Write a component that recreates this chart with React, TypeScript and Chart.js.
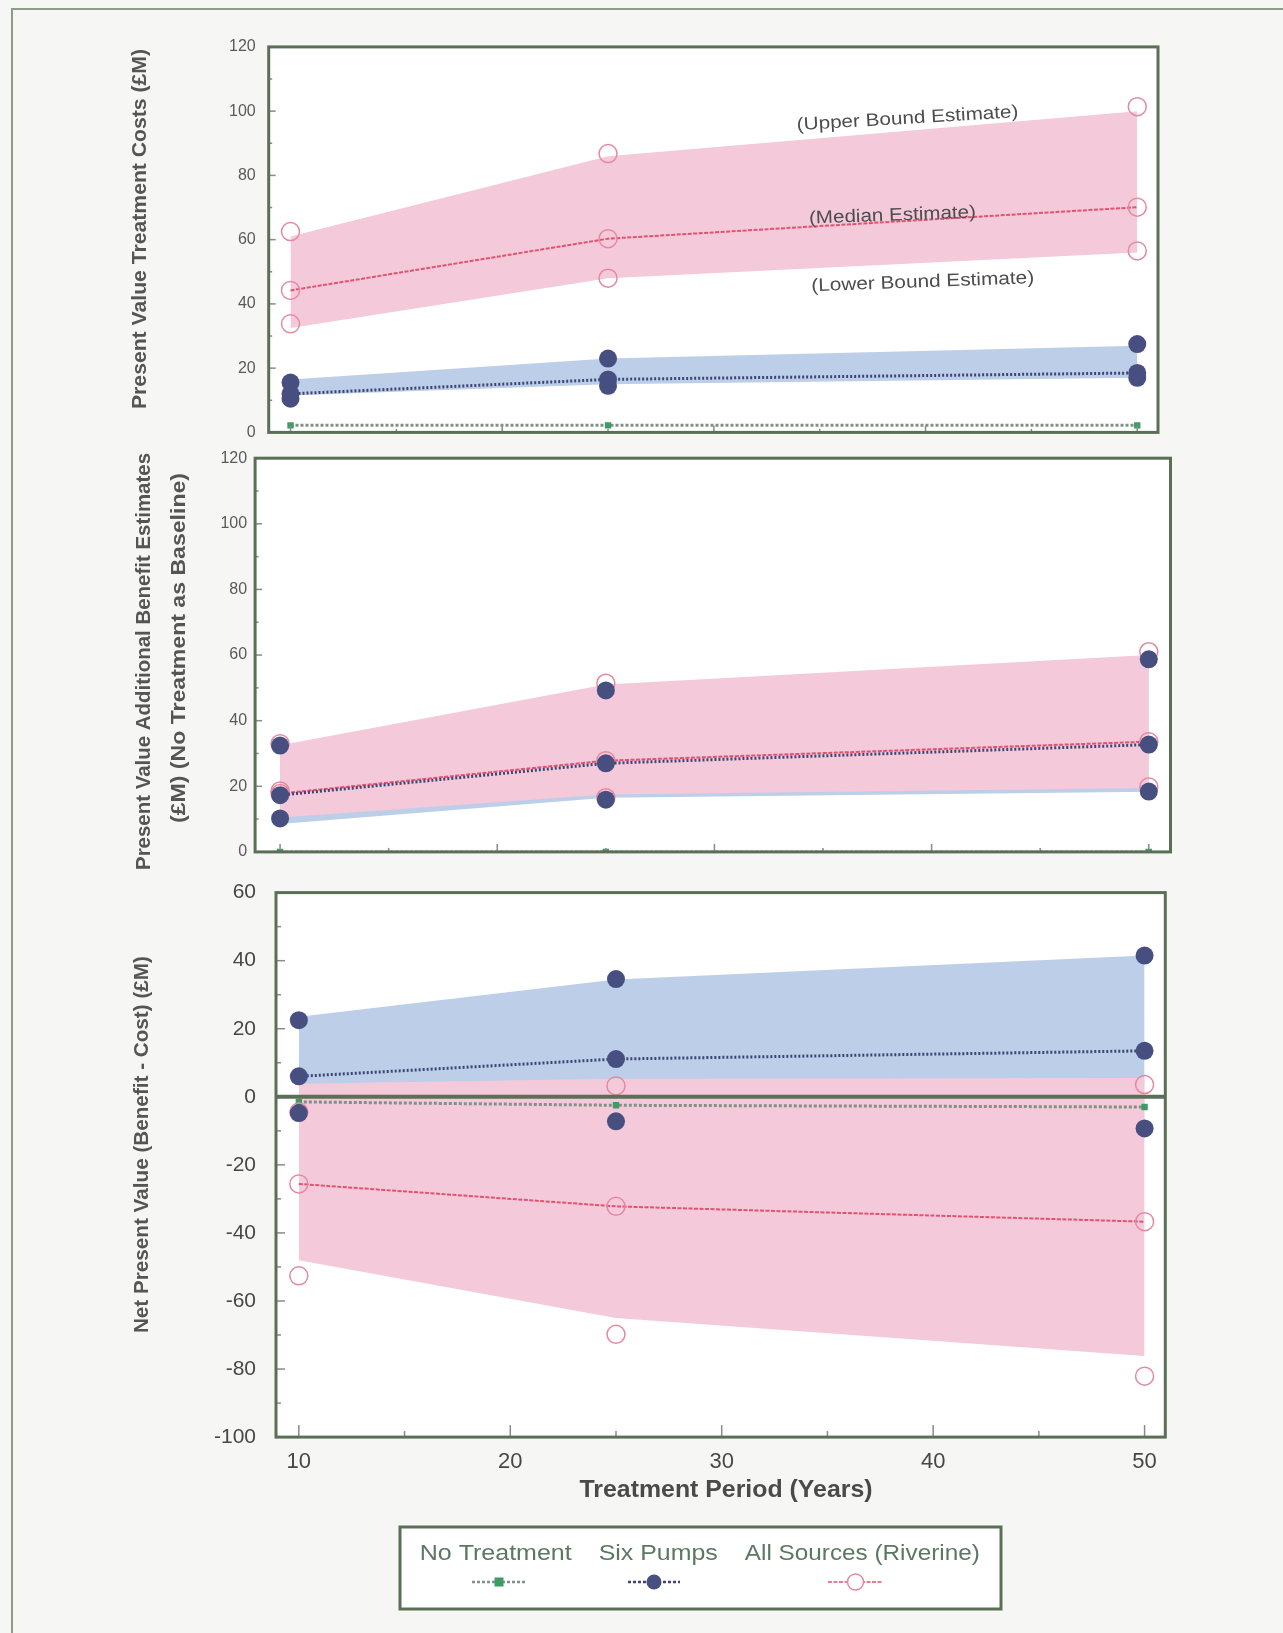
import React, { useEffect, useRef } from 'react';
import { Chart, registerables } from 'chart.js';

Chart.register(...registerables);

// ---------------- data ----------------
const years = [10, 25, 50];
const yearTicks = [10, 20, 30, 40, 50];
const costTicks = [0, 20, 40, 60, 80, 100, 120];
const benefitTicks = [0, 20, 40, 60, 80, 100, 120];
const npvTicks = [-100, -80, -60, -40, -20, 0, 20, 40, 60];

const seriesNames = ['No Treatment', 'Six Pumps', 'All Sources (Riverine)'];
const estimateLabels = ['(Upper Bound Estimate)', '(Median Estimate)', '(Lower Bound Estimate)'];
const xAxisTitle = 'Treatment Period (Years)';
const costAxisTitle = 'Present Value Treatment Costs (£M)';
const benefitAxisTitle = ['Present Value Additional Benefit Estimates', '(£M) (No Treatment as Baseline)'];
const npvAxisTitle = 'Net Present Value (Benefit - Cost) (£M)';

// Panel 1: treatment costs
const costNoTreatment = [2.2, 2.2, 2.2];
const costPumpsUpper = [15.5, 23, 27.5];
const costPumpsMedian = [12, 16.5, 18.5];
const costPumpsLower = [10.5, 14.5, 17];
const costPumpsBandUpper = [16.5, 23, 27];
const costPumpsBandLower = [11.5, 15, 17];
const costRiverUpper = [62.5, 86.8, 101.4];
const costRiverMedian = [44.2, 60.3, 70.1];
const costRiverLower = [33.8, 48, 56.5];
const costRiverBandUpper = [61, 86, 100];
const costRiverBandLower = [32.5, 48, 56];

// Panel 2: additional benefits
const benefitNoTreatment = [0, 0, 0];
const benefitPumpsUpper = [32.4, 49.2, 58.7];
const benefitPumpsMedian = [17.3, 27, 32.7];
const benefitPumpsLower = [10.2, 15.9, 18.4];
const benefitPumpsBandUpper = [32, 49, 58.5];
const benefitPumpsBandLower = [8.5, 16.5, 18.3];
const benefitRiverUpper = [33, 51.4, 61];
const benefitRiverMedian = [17.8, 27.8, 33.6];
const benefitRiverLower = [18.6, 16.5, 19.8];
const benefitRiverBandUpper = [32.5, 51, 60];
const benefitRiverBandLower = [10.5, 17.5, 19.5];

// Panel 3: net present value
const npvNoTreatment = [-1.5, -2.5, -3];
const npvPumpsUpper = [22.5, 34.6, 41.5];
const npvPumpsMedian = [6, 11.1, 13.5];
const npvPumpsLower = [-4.8, -7.2, -9.3];
const npvPumpsBandUpper = [23.5, 34.5, 41.5];
const npvPumpsBandLower = [-4.8, -7.2, -9.3];
const npvRiverUpper = [-4.5, 3.2, 3.6];
const npvRiverMedian = [-25.6, -32.2, -36.7];
const npvRiverLower = [-52.6, -69.8, -82.1];
const npvRiverBandUpper = [3.8, 5.3, 5.5];
const npvRiverBandLower = [-48, -65, -76.2];

// ---------------- styles ----------------
const FONT = '"Liberation Sans", Arial, Helvetica, sans-serif';
const NAVY = '#474f80';
const NAVY_LINE = '#3d4575';
const GREEN = '#3d9b64';
const GREEN_LINE = '#7f9285';
const PINK_LINE = '#e4526f';
const PINK_MARK = '#e5899f';
const BLUE_FILL = 'rgb(189,206,233)';
const PINK_FILL = 'rgb(244,201,218)';
const FRAME = '#5b6f56';
const TICK_MARK = '#8a8a8a';
const TEXT = '#4d4d4d';
const LEGEND_TEXT = '#5c7863';
const PAGE_BG = '#f6f6f4';

type Series = {
  noT: number[];
  pU: number[]; pM: number[]; pL: number[]; pBU: number[]; pBL: number[];
  rU: number[]; rM: number[]; rL: number[]; rBU: number[]; rBL: number[];
};

function buildDatasets(s: Series) {
  const pts = (v: number[]) => v.map((y, i) => ({ x: years[i], y }));
  const hidden = { borderWidth: 0, pointRadius: 0, pointHoverRadius: 0, borderColor: 'rgba(0,0,0,0)' };
  const ring = {
    pointStyle: 'circle', pointRadius: 9, pointHoverRadius: 9, pointBorderColor: PINK_MARK,
    pointBorderWidth: 1.5, pointBackgroundColor: 'rgba(255,255,255,0)',
  };
  const dot = {
    pointStyle: 'circle', pointRadius: 9, pointHoverRadius: 9, pointBackgroundColor: NAVY,
    pointBorderColor: NAVY, pointBorderWidth: 0,
  };
  return [
    { label: 'pumps band', data: pts(s.pBU), ...hidden, fill: { target: 1 }, backgroundColor: BLUE_FILL, order: 10 },
    { label: 'pumps band low', data: pts(s.pBL), ...hidden, fill: false, order: 10 },
    { label: 'river band', data: pts(s.rBU), ...hidden, fill: { target: 3 }, backgroundColor: PINK_FILL, order: 9 },
    { label: 'river band low', data: pts(s.rBL), ...hidden, fill: false, order: 9 },
    {
      label: seriesNames[0], data: pts(s.noT), borderColor: GREEN_LINE, borderWidth: 3, borderDash: [3, 2],
      pointStyle: 'rect', pointRadius: 4.5, pointBackgroundColor: GREEN, pointBorderColor: GREEN,
      pointBorderWidth: 0, fill: false, order: 5,
    },
    { label: seriesNames[2], data: pts(s.rM), borderColor: PINK_LINE, borderWidth: 2, borderDash: [4, 1.5], fill: false, ...ring, order: 4 },
    { label: seriesNames[2] + ' upper', data: pts(s.rU), showLine: false, fill: false, ...ring, order: 4 },
    { label: seriesNames[2] + ' lower', data: pts(s.rL), showLine: false, fill: false, ...ring, order: 4 },
    { label: seriesNames[1], data: pts(s.pM), borderColor: NAVY_LINE, borderWidth: 3, borderDash: [2, 2], fill: false, ...dot, order: 2 },
    { label: seriesNames[1] + ' upper', data: pts(s.pU), showLine: false, fill: false, ...dot, order: 2 },
    { label: seriesNames[1] + ' lower', data: pts(s.pL), showLine: false, fill: false, ...dot, order: 2 },
  ];
}

type TextSpec = { text: string; x: number; y: number; width: number; size: number; bold?: boolean; color: string; angle: number };

function fitText(ctx: CanvasRenderingContext2D, t: TextSpec, offY: number) {
  ctx.save();
  ctx.font = `${t.bold ? 'bold ' : ''}${t.size}px ${FONT}`;
  ctx.fillStyle = t.color;
  ctx.textAlign = 'center';
  ctx.textBaseline = 'middle';
  ctx.translate(t.x, t.y - offY);
  ctx.rotate((t.angle * Math.PI) / 180);
  const w = ctx.measureText(t.text).width;
  if (w > 0) ctx.scale(t.width / w, 1);
  ctx.fillText(t.text, 0, 0);
  ctx.restore();
}

type DecoCfg = {
  top: number;
  yTicks: number[];
  yMajor: number; yMinor: number; xMajor: number; xMinor: number;
  zeroLine?: boolean;
  texts: TextSpec[];
  legend?: boolean;
};

const legendEntries = [
  { name: seriesNames[0], cx: 495.7, tw: 152, lx1: 472, lx2: 526, kind: 'rect' },
  { name: seriesNames[1], cx: 658.2, tw: 119, lx1: 628, lx2: 680, kind: 'dot' },
  { name: seriesNames[2], cx: 862.3, tw: 235, lx1: 828, lx2: 883, kind: 'ring' },
];

function midpoints(v: number[]) {
  const out: number[] = [];
  for (let i = 0; i < v.length - 1; i++) out.push((v[i] + v[i + 1]) / 2);
  return out;
}

function makeDeco(cfg: DecoCfg) {
  return {
    id: 'deco',
    beforeDraw(chart: any) {
      const { ctx, chartArea: a } = chart;
      ctx.save();
      ctx.fillStyle = '#ffffff';
      ctx.fillRect(a.left, a.top, a.right - a.left, a.bottom - a.top);
      ctx.restore();
    },
    afterDatasetsDraw(chart: any) {
      const { ctx, chartArea: a, scales } = chart;
      const xs = scales.x, ys = scales.y;
      ctx.save();
      ctx.strokeStyle = TICK_MARK;
      ctx.lineWidth = 1.5;
      const drawY = (v: number, len: number) => {
        const py = ys.getPixelForValue(v);
        if (py <= a.top + 2 || py >= a.bottom - 2) return;
        ctx.beginPath(); ctx.moveTo(a.left, py); ctx.lineTo(a.left + len, py); ctx.stroke();
      };
      cfg.yTicks.forEach((v) => drawY(v, cfg.yMajor));
      midpoints(cfg.yTicks).forEach((v) => drawY(v, cfg.yMinor));
      const drawX = (v: number, len: number) => {
        const px = xs.getPixelForValue(v);
        ctx.beginPath(); ctx.moveTo(px, a.bottom); ctx.lineTo(px, a.bottom - len); ctx.stroke();
      };
      yearTicks.forEach((v) => drawX(v, cfg.xMajor));
      midpoints(yearTicks).forEach((v) => drawX(v, cfg.xMinor));
      if (cfg.zeroLine) {
        const py = ys.getPixelForValue(0);
        ctx.strokeStyle = FRAME;
        ctx.lineWidth = 4;
        ctx.beginPath(); ctx.moveTo(a.left, py); ctx.lineTo(a.right, py); ctx.stroke();
      }
      ctx.strokeStyle = FRAME;
      ctx.lineWidth = 3;
      ctx.strokeRect(a.left, a.top, a.right - a.left, a.bottom - a.top);
      ctx.restore();
    },
    afterDraw(chart: any) {
      const ctx: CanvasRenderingContext2D = chart.ctx;
      cfg.texts.forEach((t) => fitText(ctx, t, cfg.top));
      if (cfg.legend) {
        const off = cfg.top;
        ctx.save();
        ctx.fillStyle = '#ffffff';
        ctx.fillRect(400, 1527 - off, 601, 82);
        ctx.strokeStyle = FRAME;
        ctx.lineWidth = 3;
        ctx.strokeRect(400, 1527 - off, 601, 82);
        ctx.restore();
        legendEntries.forEach((e) => {
          fitText(ctx, { text: e.name, x: e.cx, y: 1554, width: e.tw, size: 22, color: LEGEND_TEXT, angle: 0 }, off);
          const my = 1582 - off;
          const mx = (e.lx1 + e.lx2) / 2;
          ctx.save();
          ctx.setLineDash(e.kind === 'ring' ? [4, 1.5] : [3, 2]);
          ctx.lineWidth = e.kind === 'ring' ? 1.5 : 2.5;
          ctx.strokeStyle = e.kind === 'rect' ? GREEN_LINE : e.kind === 'dot' ? NAVY_LINE : PINK_LINE;
          ctx.beginPath(); ctx.moveTo(e.lx1, my); ctx.lineTo(e.lx2, my); ctx.stroke();
          ctx.setLineDash([]);
          if (e.kind === 'rect') {
            ctx.fillStyle = GREEN;
            ctx.fillRect(mx - 4.5, my - 4.5, 9, 9);
          } else if (e.kind === 'dot') {
            ctx.fillStyle = NAVY;
            ctx.beginPath(); ctx.arc(mx, my, 7.5, 0, Math.PI * 2); ctx.fill();
          } else {
            ctx.fillStyle = '#ffffff';
            ctx.strokeStyle = PINK_MARK;
            ctx.lineWidth = 1.5;
            ctx.beginPath(); ctx.arc(mx, my, 8, 0, Math.PI * 2); ctx.fill(); ctx.stroke();
          }
          ctx.restore();
        });
      }
    },
  };
}

type PanelSpec = {
  top: number; height: number;
  padding: { left: number; right: number; top: number; bottom: number };
  yWidth: number; yPad: number; yFont: number; yColor: string;
  xMin: number; xMax: number; yMin: number; yMax: number;
  showX: boolean; xHeight: number;
  ticks: number[];
  series: Series;
  deco: DecoCfg;
};

function makeConfig(p: PanelSpec): any {
  return {
    type: 'line',
    data: { datasets: buildDatasets(p.series) },
    options: {
      animation: false,
      responsive: false,
      maintainAspectRatio: false,
      devicePixelRatio: 1,
      events: [],
      layout: { padding: p.padding },
      plugins: { legend: { display: false }, tooltip: { enabled: false } },
      elements: { line: { tension: 0 } },
      scales: {
        x: {
          type: 'linear', min: p.xMin, max: p.xMax, display: p.showX,
          afterBuildTicks: (s: any) => { s.ticks = yearTicks.map((v) => ({ value: v })); },
          afterFit: (s: any) => { s.height = p.xHeight; },
          ticks: { font: { family: FONT, size: 22 }, color: '#474747', padding: 12, maxRotation: 0, autoSkip: false },
          grid: { display: false, drawTicks: false },
          border: { display: false },
        },
        y: {
          type: 'linear', min: p.yMin, max: p.yMax,
          afterBuildTicks: (s: any) => { s.ticks = p.ticks.map((v) => ({ value: v })); },
          afterFit: (s: any) => { s.width = p.yWidth; },
          ticks: { font: { family: FONT, size: p.yFont }, color: p.yColor, padding: p.yPad, autoSkip: false },
          grid: { display: false, drawTicks: false },
          border: { display: false },
        },
      },
    },
    plugins: [makeDeco(p.deco)],
  };
}

const panel1: PanelSpec = {
  top: 0, height: 455,
  padding: { left: 268.7 - 60, right: 1283 - 1158, top: 46.9, bottom: 455 - 442.6 },
  yWidth: 60, yPad: 13, yFont: 16, yColor: '#5a5a5a',
  xMin: 8.97, xMax: 50.98, yMin: 0, yMax: 120, showX: false, xHeight: 0,
  ticks: costTicks,
  series: {
    noT: costNoTreatment, pU: costPumpsUpper, pM: costPumpsMedian, pL: costPumpsLower,
    pBU: costPumpsBandUpper, pBL: costPumpsBandLower, rU: costRiverUpper, rM: costRiverMedian,
    rL: costRiverLower, rBU: costRiverBandUpper, rBL: costRiverBandLower,
  },
  deco: {
    top: 0, yTicks: costTicks, yMajor: 7, yMinor: 3.5, xMajor: 7, xMinor: 3.5,
    texts: [
      { text: costAxisTitle, x: 140.6, y: 229, width: 360, size: 20, bold: true, color: '#555555', angle: -90 },
      { text: estimateLabels[0], x: 907.6, y: 118.7, width: 222, size: 18, color: TEXT, angle: -3.4 },
      { text: estimateLabels[1], x: 892.5, y: 215.6, width: 167, size: 18, color: TEXT, angle: -2.1 },
      { text: estimateLabels[2], x: 922.7, y: 282.2, width: 223, size: 18, color: TEXT, angle: -2.1 },
    ],
  },
};

const panel2: PanelSpec = {
  top: 440, height: 430,
  padding: { left: 255.1 - 60, right: 1283 - 1170.5, top: 458.2 - 440, bottom: 870 - 851.9 },
  yWidth: 60, yPad: 8, yFont: 16, yColor: '#5a5a5a',
  xMin: 8.85, xMax: 51.0, yMin: 0, yMax: 120, showX: false, xHeight: 0,
  ticks: benefitTicks,
  series: {
    noT: benefitNoTreatment, pU: benefitPumpsUpper, pM: benefitPumpsMedian, pL: benefitPumpsLower,
    pBU: benefitPumpsBandUpper, pBL: benefitPumpsBandLower, rU: benefitRiverUpper, rM: benefitRiverMedian,
    rL: benefitRiverLower, rBU: benefitRiverBandUpper, rBL: benefitRiverBandLower,
  },
  deco: {
    top: 440, yTicks: benefitTicks, yMajor: 7, yMinor: 3.5, xMajor: 8, xMinor: 4,
    texts: [
      { text: benefitAxisTitle[0], x: 144, y: 661.5, width: 417, size: 20, bold: true, color: '#555555', angle: -90 },
      { text: benefitAxisTitle[1], x: 179, y: 648, width: 350, size: 20, bold: true, color: '#555555', angle: -90 },
    ],
  },
};

const panel3: PanelSpec = {
  top: 860, height: 773,
  padding: { left: 276 - 80, right: 1283 - 1165.3, top: 883.1 - 860, bottom: 773 - (1437.1 - 860) - 40 },
  yWidth: 80, yPad: 20, yFont: 21, yColor: '#474747',
  xMin: 8.92, xMax: 50.98, yMin: -100, yMax: 60, showX: true, xHeight: 40,
  ticks: npvTicks,
  series: {
    noT: npvNoTreatment, pU: npvPumpsUpper, pM: npvPumpsMedian, pL: npvPumpsLower,
    pBU: npvPumpsBandUpper, pBL: npvPumpsBandLower, rU: npvRiverUpper, rM: npvRiverMedian,
    rL: npvRiverLower, rBU: npvRiverBandUpper, rBL: npvRiverBandLower,
  },
  deco: {
    top: 860, yTicks: npvTicks, yMajor: 9, yMinor: 5, xMajor: 12, xMinor: 6, zeroLine: true,
    texts: [
      { text: npvAxisTitle, x: 142.7, y: 1144.6, width: 377, size: 20, bold: true, color: '#555555', angle: -90 },
      { text: xAxisTitle, x: 726, y: 1490, width: 293, size: 24, bold: true, color: '#4a4a4a', angle: 0 },
    ],
    legend: true,
  },
};

function Panel({ spec }: { spec: PanelSpec }) {
  const ref = useRef<HTMLCanvasElement>(null);
  useEffect(() => {
    if (!ref.current) return;
    const chart = new Chart(ref.current, makeConfig(spec));
    return () => chart.destroy();
  }, [spec]);
  return (
    <canvas
      ref={ref}
      width={1283}
      height={spec.height}
      style={{ position: 'absolute', left: 0, top: spec.top, width: 1283, height: spec.height }}
    />
  );
}

export default function App() {
  return (
    <div
      style={{
        position: 'absolute', left: 0, top: 0, width: 1283, height: 1633,
        background: PAGE_BG, overflow: 'hidden',
      }}
    >
      <div style={{ position: 'absolute', left: 11, top: 8, width: 1272, height: 2, background: '#8c9c88' }} />
      <div style={{ position: 'absolute', left: 11, top: 8, width: 2, height: 1625, background: '#8c9c88' }} />
      <Panel spec={panel1} />
      <Panel spec={panel2} />
      <Panel spec={panel3} />
    </div>
  );
}
